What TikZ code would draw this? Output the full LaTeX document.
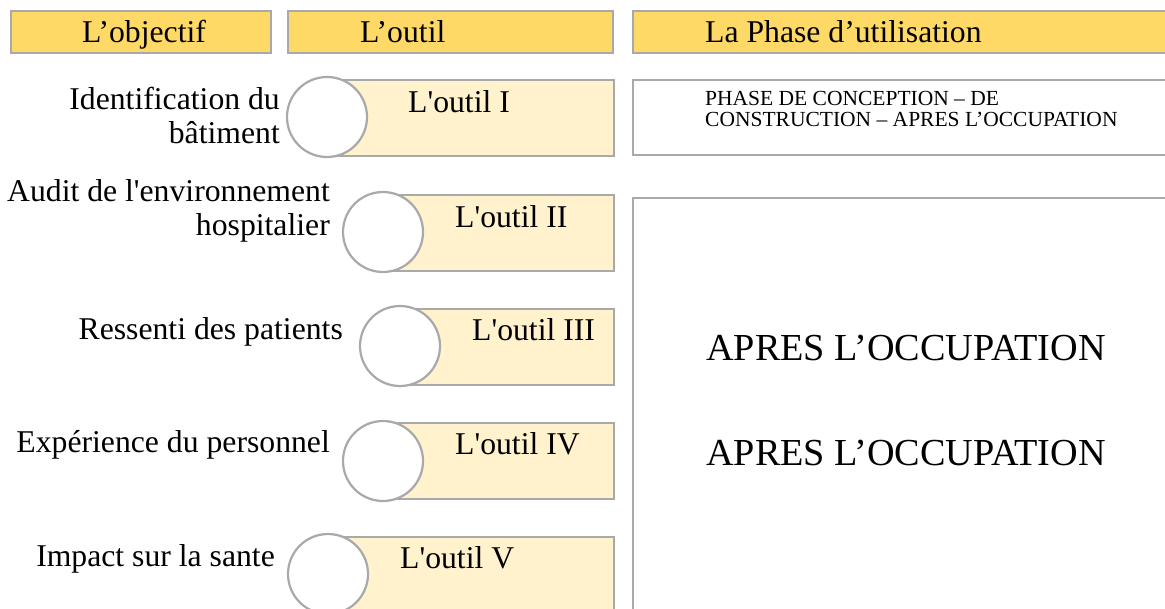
\documentclass[tikz,border=0pt]{standalone}
\usepackage{fontspec}
\setmainfont{Liberation Serif}
\newfontfamily\plainserif{Liberation Serif}
\definecolor{hdr}{HTML}{FFD966}
\definecolor{toolfill}{HTML}{FFF2CC}
\definecolor{edgegray}{HTML}{A9A9A9}
\begin{document}
\begin{tikzpicture}[x=1pt,y=-1pt,
  hdrbox/.style={draw=edgegray,fill=hdr,line width=2.2pt,inner sep=0,anchor=north west},
  toolbox/.style={draw=edgegray,fill=toolfill,line width=2.2pt,inner sep=0,anchor=north west,minimum height=76pt},
  plainbox/.style={draw=edgegray,fill=white,line width=2.2pt,inner sep=0,anchor=north west},
  disc/.style={circle,draw=edgegray,fill=white,line width=2.2pt,inner sep=0,minimum size=80pt},
  big/.style={inner sep=0,font=\plainserif\fontsize{31.7}{34}\selectfont},
  huge/.style={inner sep=0,font=\plainserif\fontsize{38.2}{40}\selectfont},
  small/.style={inner sep=0,font=\plainserif\fontsize{21.5}{20.5}\selectfont,align=left}]
\useasboundingbox (0,0) rectangle (1165,608);
\clip (0,0) rectangle (1165,608);
% headers
\node[hdrbox,minimum width=260pt,minimum height=42pt] (h1) at (10,10) {};
\node[hdrbox,minimum width=325pt,minimum height=42pt] (h2) at (287,10) {};
\node[hdrbox,minimum width=545pt,minimum height=42pt] (h3) at (632,10) {};
\node[big,anchor=base] (h1t) at (144,42) {L’objectif};
\node[big,anchor=base west] (h2t) at (360,42) {L’outil};
\node[big,anchor=base west] (h3t) at (705,42) {La Phase d’utilisation};
% phase boxes
\node[plainbox,minimum width=545pt,minimum height=75pt] (p1) at (632,79) {};
\node[small,anchor=base west] (p1t) at (705,126) {PHASE DE CONCEPTION – DE\\CONSTRUCTION – APRES L’OCCUPATION};
\node[plainbox,minimum width=545pt,minimum height=420pt] (p2) at (632,197) {};
\node[huge,anchor=base west] (p2a) at (706,360) {APRES L’OCCUPATION};
\node[huge,anchor=base west] (p2b) at (706,465) {APRES L’OCCUPATION};
% tools
\node[toolbox,minimum width=285pt] (r1) at (328,79) {};
\node[disc] (c1) at (327,117) {};
\node[big,anchor=base west] (r1t) at (408,112) {L'outil I};
\node[toolbox,minimum width=230pt] (r2) at (383,194) {};
\node[disc] (c2) at (383,232) {};
\node[big,anchor=base west] (r2t) at (455,227) {L'outil II};
\node[toolbox,minimum width=213pt] (r3) at (400,308) {};
\node[disc] (c3) at (400,346) {};
\node[big,anchor=base west] (r3t) at (472,340) {L'outil III};
\node[toolbox,minimum width=230pt] (r4) at (383,422) {};
\node[disc] (c4) at (383,461) {};
\node[big,anchor=base west] (r4t) at (455,454) {L'outil IV};
\node[toolbox,minimum width=285pt,minimum height=80pt] (r5) at (328,536) {};
\node[disc] (c5) at (328,574) {};
\node[big,anchor=base west] (r5t) at (400,568) {L'outil V};
% objectives
\node[big,anchor=base east,align=right] (o1) at (280,143) {Identification du\hspace{3pt}\\bâtiment};
\node[big,anchor=base east,align=right] (o2) at (330,235) {Audit de l'environnement\\hospitalier};
\node[big,anchor=base east] (o3) at (343,339) {Ressenti des patients};
\node[big,anchor=base east] (o4) at (330,452) {Expérience du personnel};
\node[big,anchor=base east] (o5) at (275,566) {Impact sur la sante};
\end{tikzpicture}
\end{document}
